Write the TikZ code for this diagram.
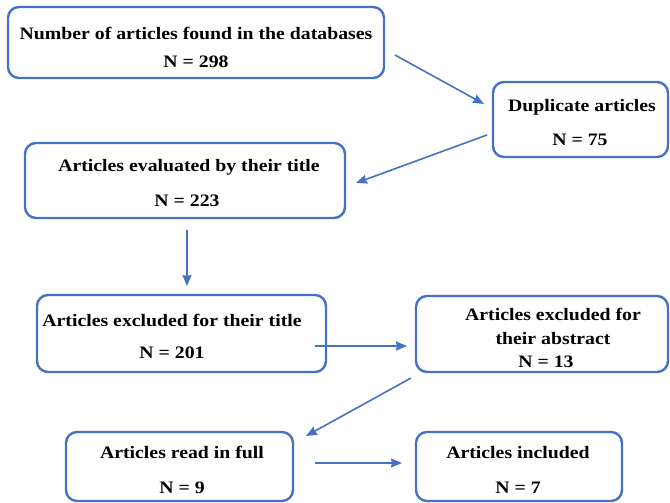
\documentclass[tikz,border=0pt]{standalone}
\usepackage{fontspec}
\setmainfont{Liberation Serif}
\usetikzlibrary{arrows.meta}
\definecolor{bblue}{HTML}{4472C4}
\newcommand{\stx}[1]{\scalebox{1.13}[1]{#1}}
\tikzset{
  box/.style={draw=bblue, line width=2.4pt, rounded corners=11pt, inner sep=0pt},
  txt/.style={font=\fontsize{17.5}{20}\selectfont\bfseries, inner sep=0pt, anchor=base},
  arr/.style={draw=bblue, line width=1.6pt, -{Stealth[length=11pt,width=9pt,inset=1pt]}}
}
\begin{document}
\begin{tikzpicture}[x=1pt,y=-1pt]
\useasboundingbox (0,0) rectangle (670,503);
% boxes
\node[box, minimum width=376, minimum height=71] (b1) at (196,42.5) {};
\node[box, minimum width=175, minimum height=75] (b2) at (580.5,119.5) {};
\node[box, minimum width=320, minimum height=75] (b3) at (185,180.5) {};
\node[box, minimum width=289, minimum height=77] (b4) at (181.5,333.5) {};
\node[box, minimum width=252, minimum height=76] (b5) at (542,334) {};
\node[box, minimum width=227, minimum height=69] (b6) at (179.5,466.5) {};
\node[box, minimum width=206, minimum height=69] (b7) at (519,466.5) {};
% texts
\node[txt] (t1a) at (196,40) {\stx{Number of articles found in the databases}};
\node[txt] (t1b) at (196,68) {\stx{N = 298}};
\node[txt] (t2a) at (582,111) {\stx{Duplicate articles}};
\node[txt] (t2b) at (580,146) {\stx{N = 75}};
\node[txt] (t3a) at (189,171) {\stx{Articles evaluated by their title}};
\node[txt] (t3b) at (187,206) {\stx{N = 223}};
\node[txt] (t4a) at (172,326) {\stx{Articles excluded for their title}};
\node[txt] (t4b) at (172,358) {\stx{N = 201}};
\node[txt] (t5a) at (553,320) {\stx{Articles excluded for}};
\node[txt] (t5b) at (553,344) {\stx{their abstract}};
\node[txt] (t5c) at (546,367) {\stx{N = 13}};
\node[txt] (t6a) at (182,458) {\stx{Articles read in full}};
\node[txt] (t6b) at (182,493) {\stx{N = 9}};
\node[txt] (t7a) at (518,458) {\stx{Articles included}};
\node[txt] (t7b) at (518,493) {\stx{N = 7}};
% connector end points
\coordinate (a1s) at (395,55);
\coordinate (a1e) at (484,104);
\coordinate (a2s) at (487,135);
\coordinate (a2e) at (356,183);
\coordinate (a3s) at (187,230);
\coordinate (a3e) at (187,286);
\coordinate (a4s) at (315,346);
\coordinate (a4e) at (407,346);
\coordinate (a5s) at (411,378);
\coordinate (a5e) at (306,436);
\coordinate (a6s) at (315,463);
\coordinate (a6e) at (402,463);
\draw[arr] (a1s) -- (a1e);
\draw[arr] (a2s) -- (a2e);
\draw[arr] (a3s) -- (a3e);
\draw[arr] (a4s) -- (a4e);
\draw[arr] (a5s) -- (a5e);
\draw[arr] (a6s) -- (a6e);
\end{tikzpicture}
\end{document}
